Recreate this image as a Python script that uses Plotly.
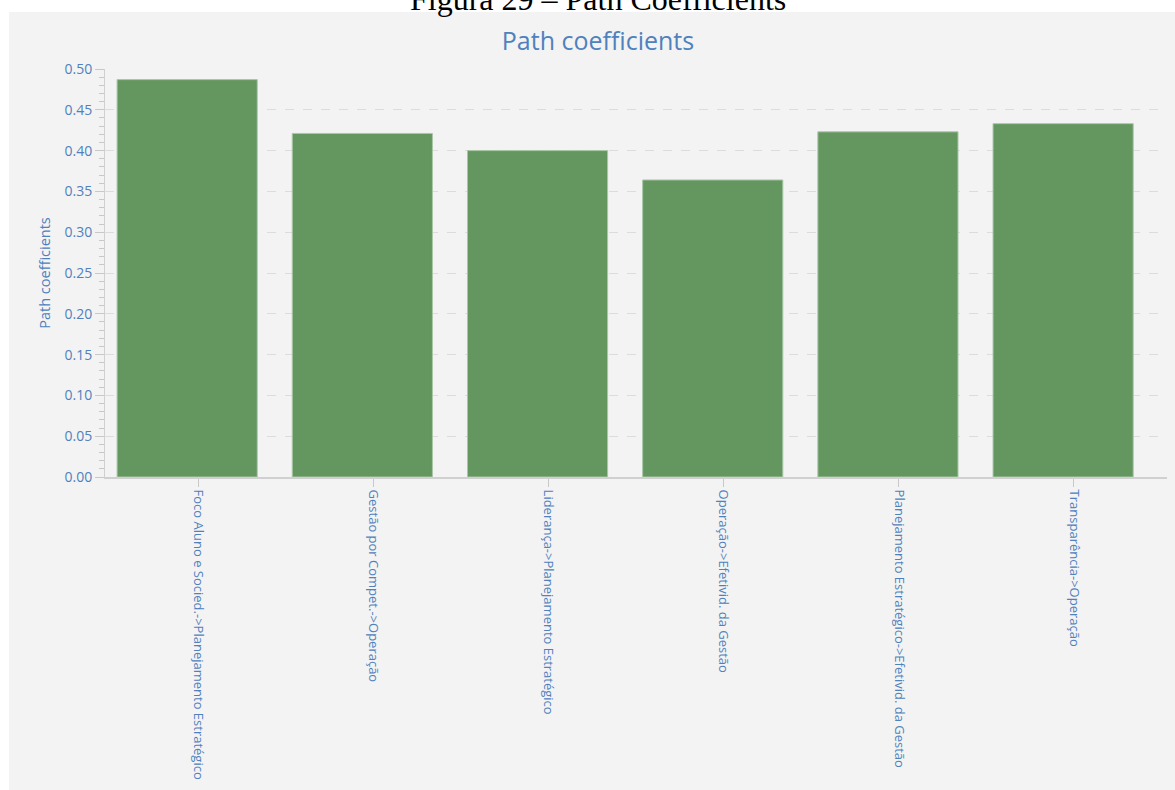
import plotly.graph_objects as go

categories = [
    "Foco Aluno e Socied.->Planejamento Estratégico",
    "Gestão por Compet.->Operação",
    "Liderança->Planejamento Estratégico",
    "Operação->Efetivid. da Gestão",
    "Planejamento Estratégico->Efetivid. da Gestão",
    "Transparência->Operação",
]
path_coefficients = [0.487, 0.421, 0.400, 0.364, 0.423, 0.433]
y_tick_values = [0.00, 0.05, 0.10, 0.15, 0.20, 0.25, 0.30, 0.35, 0.40, 0.45, 0.50]
y_tick_labels = ["0.00", "0.05", "0.10", "0.15", "0.20", "0.25", "0.30", "0.35", "0.40", "0.45", "0.50"]

W, H = 1175, 790
ML, MR, MT, MB = 105, 8, 69, 313
PW = W - ML - MR
PH = H - MT - MB

def px_to_paper_x(px):
    return (px - ML) / PW

def px_to_paper_y(py):
    return (H - MB - py) / PH

BLUE = "#4f81bd"
FONT = "Open Sans"

fig = go.Figure()
fig.add_trace(go.Bar(
    x=categories,
    y=path_coefficients,
    width=0.8,
    offset=-0.462,
    marker=dict(color="#64965f", line=dict(color="#a9c6a7", width=1)),
    hoverinfo="x+y",
))

# light grey panel behind the chart
fig.add_shape(type="rect", xref="paper", yref="paper", layer="below",
              x0=px_to_paper_x(9), x1=px_to_paper_x(1175),
              y0=px_to_paper_y(790), y1=px_to_paper_y(12),
              fillcolor="#f3f3f3", line=dict(width=0))

# caption above the panel (partly cut off at the top, as in the source)
fig.add_annotation(text="Figura 29 – Path Coefficients", xref="paper", yref="paper",
                   x=px_to_paper_x(598), y=px_to_paper_y(-1), xanchor="center", yanchor="middle",
                   showarrow=False, font=dict(family="Liberation Serif", size=32, color="#000000"))

fig.update_layout(
    width=W, height=H,
    margin=dict(l=ML, r=MR, t=MT, b=MB),
    paper_bgcolor="#ffffff",
    plot_bgcolor="rgba(0,0,0,0)",
    showlegend=False,
    bargap=0.2,
    title=dict(text="Path coefficients", x=598 / W, xref="container", y=1 - 41 / H,
               yref="container", xanchor="center", yanchor="middle",
               font=dict(family=FONT, size=25, color=BLUE)),
    font=dict(family=FONT, color=BLUE),
)

fig.update_xaxes(
    type="category",
    range=[-0.531, 5.531],
    tickangle=90,
    tickfont=dict(family=FONT, size=13, color=BLUE),
    showline=True, linecolor="#d0d0d0", linewidth=2,
    ticks="outside", ticklen=8, tickcolor="#c8c8c8", tickwidth=1,
    showgrid=False, zeroline=False,
)

fig.update_yaxes(
    range=[0, 0.5],
    tickvals=y_tick_values, ticktext=y_tick_labels,
    tickfont=dict(family=FONT, size=14, color=BLUE),
    title=dict(text="Path coefficients", font=dict(family=FONT, size=14.5, color=BLUE), standoff=10),
    showline=True, linecolor="#d0d0d0", linewidth=1,
    ticks="outside", ticklen=9, tickcolor="#c8c8c8", tickwidth=1,
    minor=dict(dtick=0.01, ticks="outside", ticklen=5, tickcolor="#c8c8c8", showgrid=False),
    showgrid=True, gridcolor="#dcdcdc", griddash="dash", gridwidth=1,
    zeroline=False,
)

fig.write_html("out.html", config={"displayModeBar": False},
               post_script="document.body.style.margin='0';document.body.style.overflow='hidden';")
